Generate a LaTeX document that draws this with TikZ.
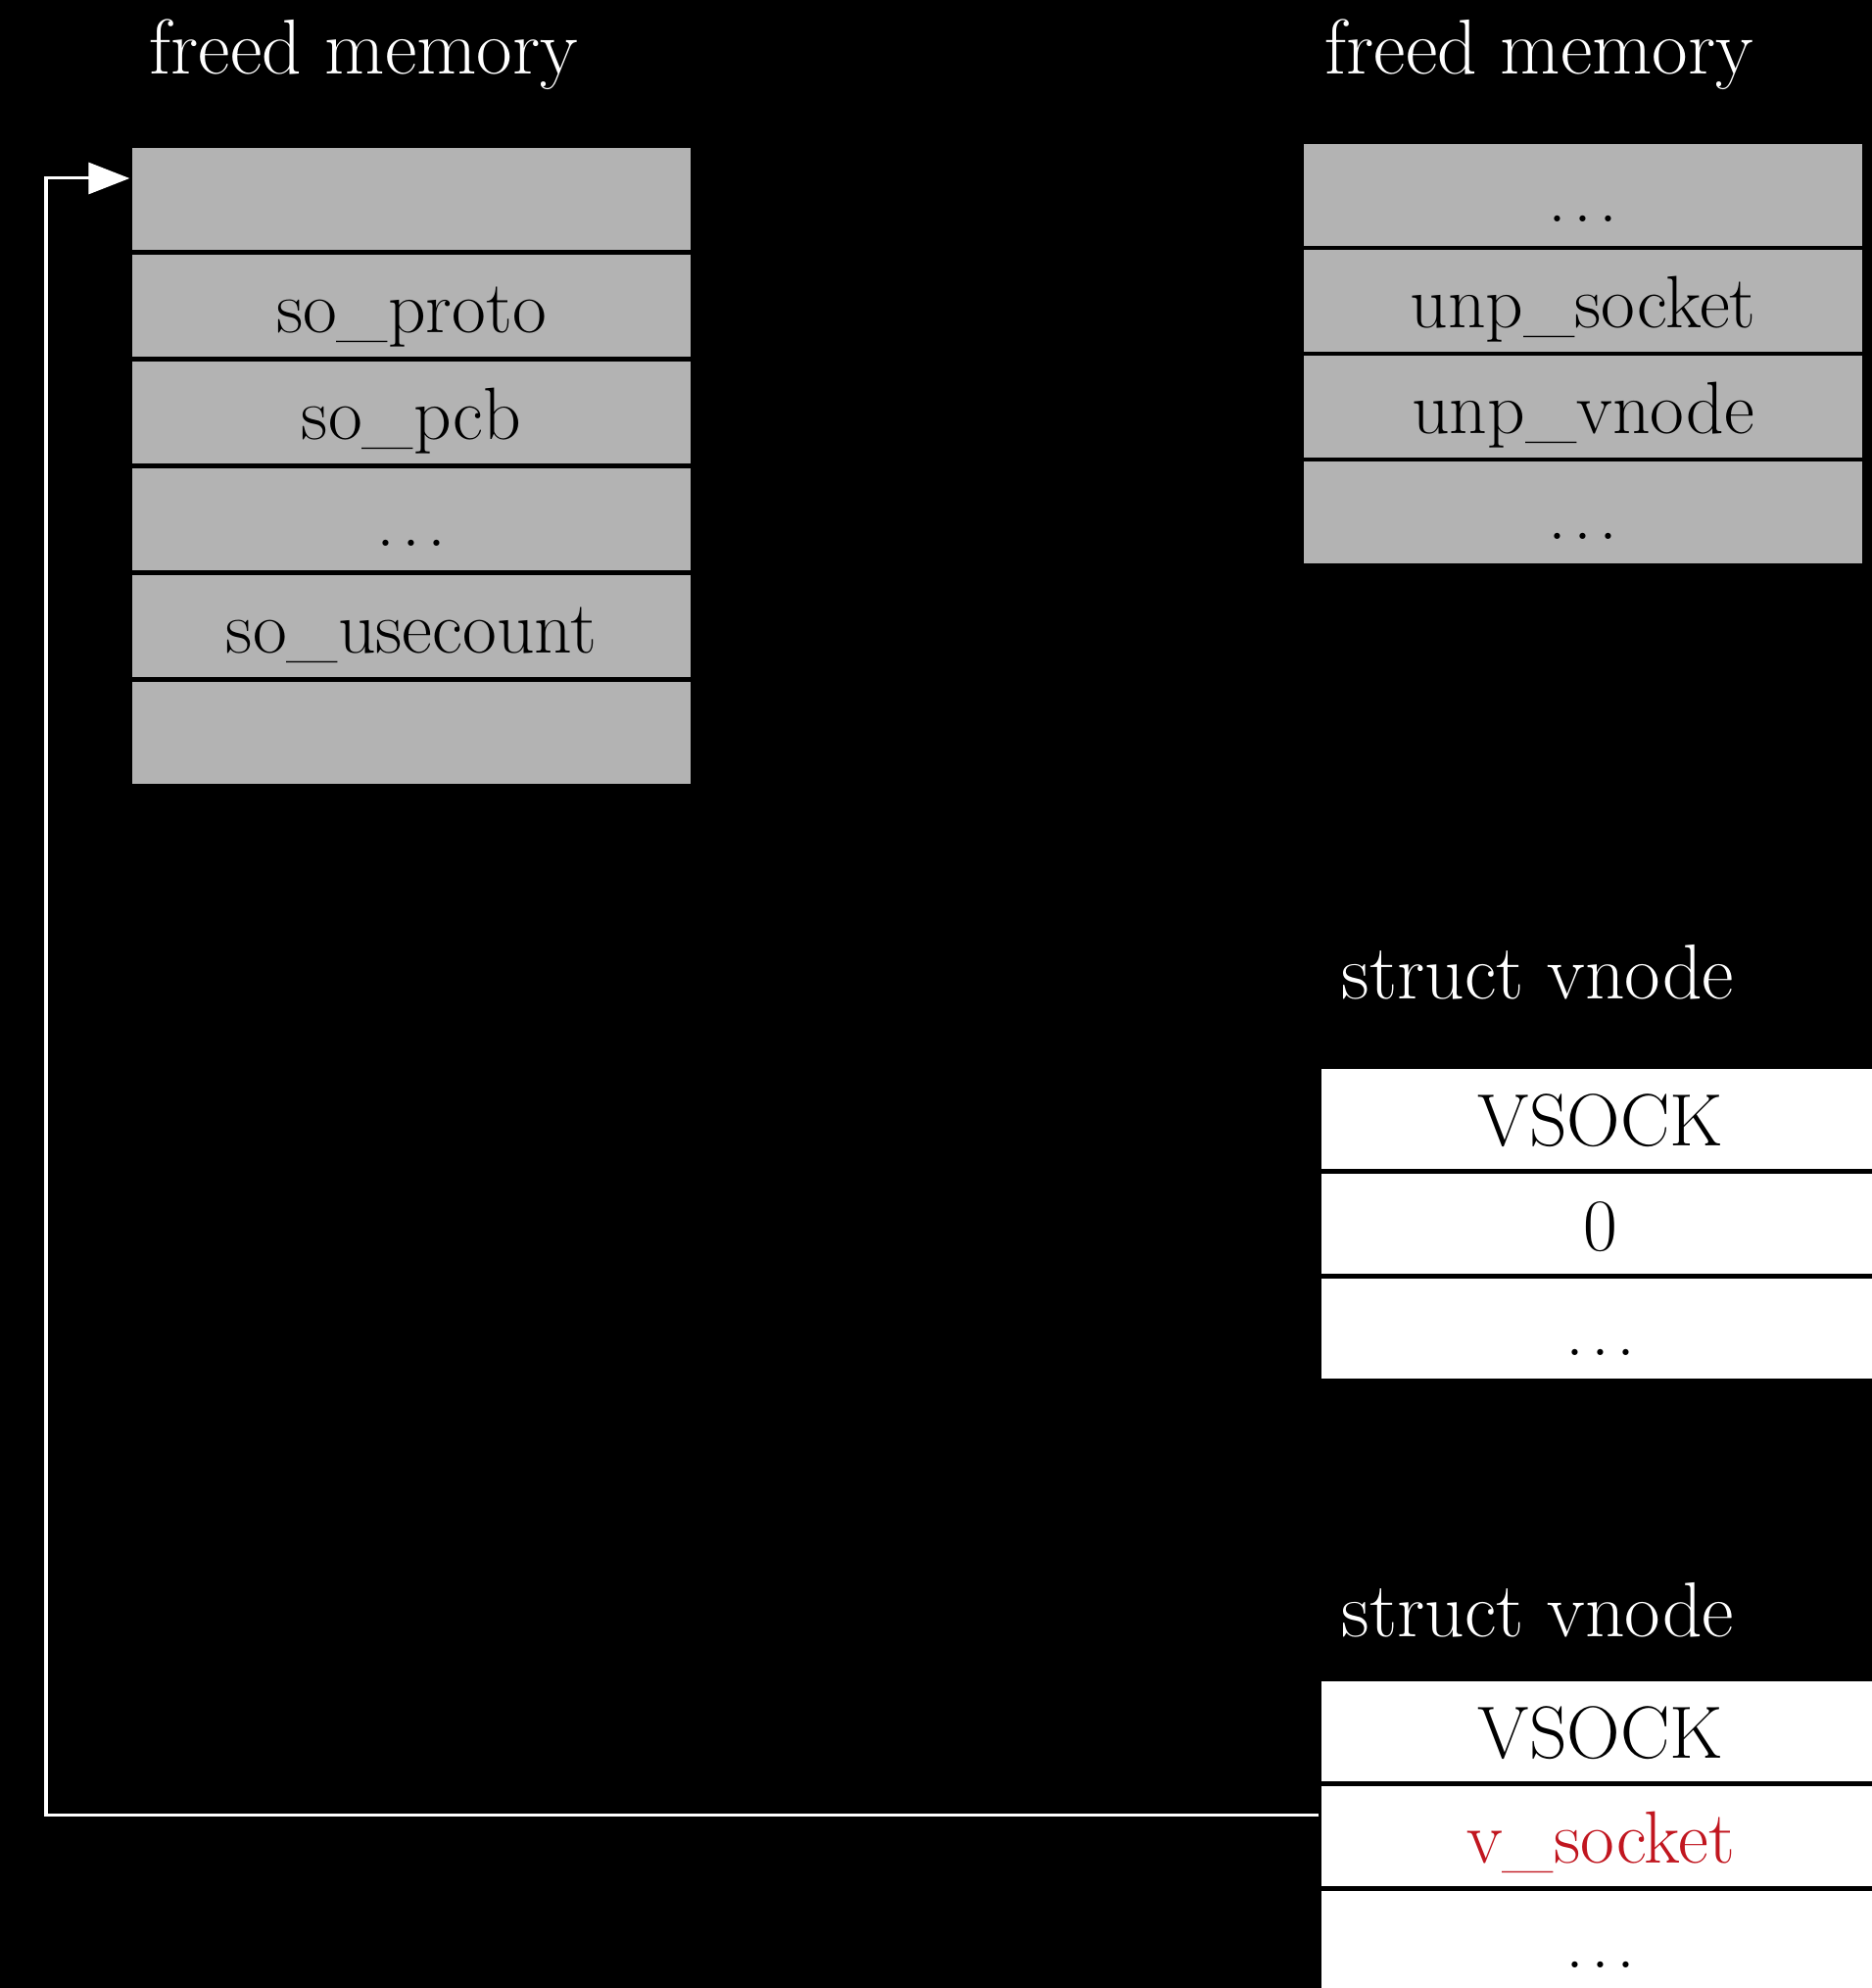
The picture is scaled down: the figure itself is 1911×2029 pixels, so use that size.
\documentclass[tikz,border=0pt]{standalone}
\usetikzlibrary{arrows.meta}
\definecolor{memgray}{HTML}{B3B3B3}
\definecolor{fieldred}{HTML}{C1161F}
\newcommand{\rowdots}{.\kern0.09em.\kern0.09em.}
\begin{document}
\begin{tikzpicture}[x=0.01cm,y=-0.01cm,
  font=\fontsize{21.5}{26}\selectfont,
  row/.style={rectangle, draw=black, line width=0.045cm, minimum width=5.75cm,
    minimum height=1.08cm, inner sep=0pt, outer sep=0pt, text height=0.60cm, text depth=0.06cm},
  grayrow/.style={row, fill=memgray},
  whiterow/.style={row, fill=white},
  title/.style={text=white, anchor=base west, inner sep=0pt, font=\fontsize{22.6}{27}\selectfont},
  link/.style={draw=white, line width=0.03cm, -{Triangle[length=0.42cm,width=0.32cm]}}
]
\fill[black] (0,0) rectangle (1911,2029);
\useasboundingbox (0,0) rectangle (1911,2029);

% left freed memory (socket)
\node[title] (t1) at (152,75) {freed memory};
\node[grayrow, minimum height=1.09cm] (l1) at (420,203) {};
\node[grayrow, minimum height=1.09cm] (l2) at (420,312) {so\_proto};
\node[grayrow, minimum height=1.09cm] (l3) at (420,421) {so\_pcb};
\node[grayrow, minimum height=1.09cm] (l4) at (420,530) {\rowdots};
\node[grayrow, minimum height=1.09cm] (l5) at (420,639) {so\_usecount};
\node[grayrow, minimum height=1.09cm] (l6) at (420,748) {};

% right freed memory (unpcb)
\node[title] (t2) at (1352,75) {freed memory};
\node[grayrow] (r1) at (1616,199) {\rowdots};
\node[grayrow] (r2) at (1616,307) {unp\_socket};
\node[grayrow] (r3) at (1616,415) {unp\_vnode};
\node[grayrow] (r4) at (1616,523) {\rowdots};

% struct vnode 1
\node[title] (t3) at (1369,1019) {struct vnode};
\node[whiterow, minimum height=1.073cm] (a1) at (1634,1142) {VSOCK};
\node[whiterow, minimum height=1.073cm] (a2) at (1634,1249) {0};
\node[whiterow, minimum height=1.073cm] (a3) at (1634,1356) {\rowdots};

% struct vnode 2
\node[title] (t4) at (1369,1670) {struct vnode};
\node[whiterow, minimum height=1.073cm] (b1) at (1634,1767) {VSOCK};
\node[whiterow, minimum height=1.073cm, text=fieldred] (b2) at (1634,1874) {v\_socket};
\node[whiterow, minimum height=1.073cm] (b3) at (1634,1981) {\rowdots};

% connector
\coordinate (src) at ([yshift=0.22cm]b2.west);
\coordinate (dst) at ([yshift=0.21cm]l1.west);
\coordinate (bend) at (47,0);
\draw[link] (src) -- (src -| bend) |- (dst);
\end{tikzpicture}
\end{document}
